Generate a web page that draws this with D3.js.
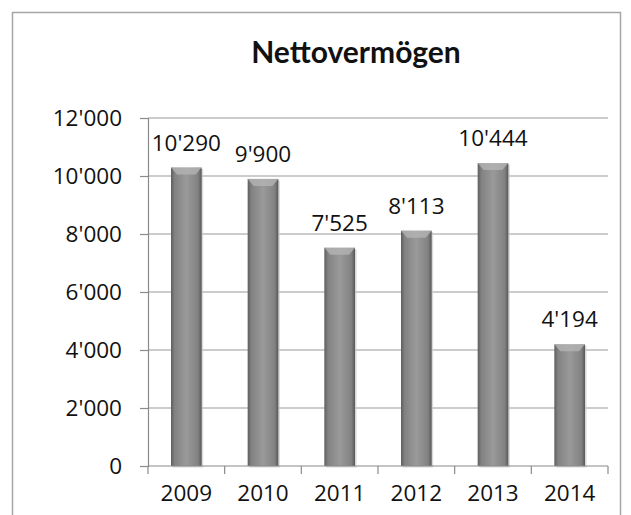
<!DOCTYPE html>
<html>
<head>
<meta charset="utf-8">
<script src="https://cdn.jsdelivr.net/npm/d3@7"></script>
<style>
  body { margin: 0; background: #fff; }
  text { font-family: "Open Sans", "Liberation Sans", sans-serif; fill: #111; }
</style>
</head>
<body>
<div id="chart"></div>
<script>
const years = ["2009", "2010", "2011", "2012", "2013", "2014"];
const values = [10290, 9900, 7525, 8113, 10444, 4194];
const yTicks = [0, 2000, 4000, 6000, 8000, 10000, 12000];

const W = 631, H = 515;
const margin = {top: 118, right: 23, bottom: 49, left: 148};
const width = W - margin.left - margin.right;
const height = H - margin.top - margin.bottom;

const fmt = v => d3.format(",")(v).replace(/,/g, "'");

const svgRoot = d3.select("#chart").append("svg")
    .attr("width", W).attr("height", H);

// outer frame
svgRoot.append("rect")
    .attr("x", 12.5).attr("y", 12.5)
    .attr("width", 608).attr("height", 520)
    .attr("fill", "none").attr("stroke", "#a6a6a6").attr("stroke-width", 1.5);

svgRoot.append("text")
    .attr("x", 356).attr("y", 63)
    .attr("text-anchor", "middle")
    .style("font-family", "Lato, sans-serif")
    .style("font-size", "30px").style("font-weight", "bold")
    .text("Nettovermögen");

const defs = svgRoot.append("defs");
const grad = defs.append("linearGradient").attr("id", "barGrad")
    .attr("x1", "0%").attr("x2", "100%").attr("y1", "0%").attr("y2", "0%");
grad.append("stop").attr("offset", "0%").attr("stop-color", "#5e5e5e");
grad.append("stop").attr("offset", "12%").attr("stop-color", "#828282");
grad.append("stop").attr("offset", "50%").attr("stop-color", "#9a9a9a");
grad.append("stop").attr("offset", "88%").attr("stop-color", "#828282");
grad.append("stop").attr("offset", "100%").attr("stop-color", "#585858");

const svg = svgRoot.append("g")
    .attr("transform", `translate(${margin.left},${margin.top})`);

const x = d3.scaleBand().domain(years).range([0, width]).paddingInner(0.6).paddingOuter(0.3);
const xCat = d3.scaleBand().domain(years).range([0, width]);
const y = d3.scaleLinear().domain([0, 12000]).range([height, 0]);

// gridlines
svg.append("g").selectAll("line").data(yTicks.filter(d => d > 0)).join("line")
    .attr("x1", 0).attr("x2", width)
    .attr("y1", d => y(d)).attr("y2", d => y(d))
    .attr("stroke", "#9a9a9a").attr("stroke-width", 1.2);

// y axis
const yAxis = svg.append("g")
    .call(d3.axisLeft(y).tickValues(yTicks).tickSize(8).tickPadding(18).tickFormat(fmt));
yAxis.select(".domain").attr("stroke", "#8a8a8a").attr("stroke-width", 1.2);
yAxis.selectAll(".tick line").attr("stroke", "#8a8a8a").attr("stroke-width", 1.2);
yAxis.selectAll("text").style("font-size", "22.5px").attr("fill", "#111")
    .style("font-family", "'Open Sans', sans-serif");

// bars
const bars = svg.append("g").selectAll("g").data(years).join("g");
bars.append("rect")
    .attr("x", d => x(d) + 1.5)
    .attr("y", (d, i) => y(values[i]) + 1.5)
    .attr("width", x.bandwidth())
    .attr("height", (d, i) => height - y(values[i]))
    .attr("fill", "#c8c8c8").attr("opacity", 0.7);
bars.append("rect")
    .attr("x", d => x(d))
    .attr("y", (d, i) => y(values[i]))
    .attr("width", x.bandwidth())
    .attr("height", (d, i) => height - y(values[i]))
    .attr("fill", "url(#barGrad)");
// top bevel
bars.append("path")
    .attr("d", (d, i) => {
        const x0 = x(d), x1 = x(d) + x.bandwidth(), t = y(values[i]);
        return `M${x0},${t}L${x1},${t}L${x1 - 6},${t + 7}L${x0 + 6},${t + 7}Z`;
    })
    .attr("fill", "#b4b4b4").attr("opacity", 0.8);

// value labels
svg.append("g").selectAll("text").data(years).join("text")
    .attr("x", d => x(d) + x.bandwidth() / 2)
    .attr("y", (d, i) => y(values[i]) - 17)
    .attr("text-anchor", "middle")
    .style("font-size", "22.5px")
    .text((d, i) => fmt(values[i]));

// x axis
const xAxisG = svg.append("g").attr("transform", `translate(0,${height})`);
xAxisG.append("line").attr("x1", 0).attr("x2", width)
    .attr("stroke", "#8a8a8a").attr("stroke-width", 1.2);
xAxisG.selectAll("line.tk").data(d3.range(years.length + 1)).join("line")
    .attr("class", "tk")
    .attr("x1", i => i * xCat.step()).attr("x2", i => i * xCat.step())
    .attr("y1", 0).attr("y2", 8)
    .attr("stroke", "#8a8a8a").attr("stroke-width", 1.2);
xAxisG.selectAll("text").data(years).join("text")
    .attr("x", d => xCat(d) + xCat.bandwidth() / 2)
    .attr("y", 35)
    .attr("text-anchor", "middle")
    .style("font-size", "22.5px")
    .text(d => d);
</script>
</body>
</html>
